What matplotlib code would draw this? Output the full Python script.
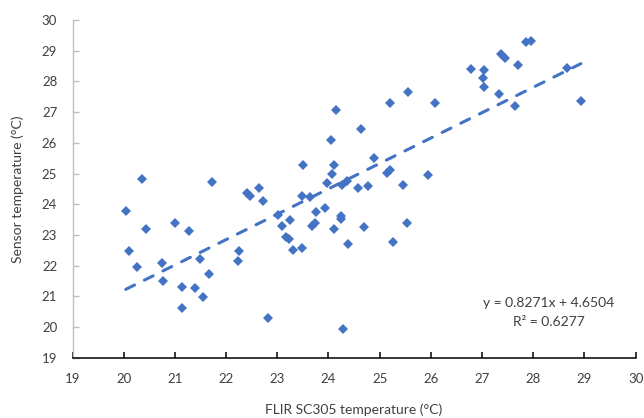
import numpy as np
import matplotlib
matplotlib.use("Agg")
import matplotlib.pyplot as plt

# FLIR SC305 reading vs sensor reading (deg C)
flir_temp = [20.04, 20.11, 20.25, 20.35, 20.44, 20.74, 20.77, 21.00, 21.14, 21.14,
             21.27, 21.39, 21.50, 21.54, 21.67, 21.72, 22.23, 22.25, 22.41, 22.46,
             22.65, 22.73, 22.82, 23.02, 23.09, 23.18, 23.23, 23.25, 23.31, 23.48,
             23.48, 23.51, 23.64, 23.67, 23.74, 23.75, 23.93, 23.98, 24.04, 24.06,
             24.11, 24.11, 24.14, 24.24, 24.24, 24.26, 24.36, 24.28, 24.39, 24.57,
             24.63, 24.70, 24.77, 24.89, 25.14, 25.20, 25.20, 25.27, 25.46, 25.53,
             25.56, 25.95, 26.09, 26.78, 27.01, 27.04, 27.04, 27.34, 27.37, 27.45,
             27.64, 27.71, 27.86, 27.95, 28.65, 28.93]
sensor_temp = [23.79, 22.49, 21.96, 24.82, 23.18, 22.09, 21.50, 23.40, 21.31, 20.62,
               23.14, 21.26, 22.20, 20.97, 21.73, 24.73, 22.14, 22.49, 24.35, 24.27,
               24.52, 24.11, 20.30, 23.65, 23.30, 22.94, 22.87, 23.49, 22.51, 22.56,
               24.28, 25.28, 24.25, 23.29, 23.38, 23.76, 23.89, 24.70, 26.09, 24.98,
               25.28, 23.18, 27.07, 23.62, 23.51, 24.63, 24.77, 19.94, 22.70, 24.52,
               26.45, 23.25, 24.60, 25.51, 25.03, 25.11, 27.31, 22.78, 24.63, 23.38,
               27.65, 24.95, 27.31, 28.39, 28.12, 28.37, 27.81, 27.58, 28.88, 28.77,
               27.20, 28.53, 29.27, 29.32, 28.45, 27.37]

# linear trendline as printed on the chart
slope = 0.8271
intercept = 4.6504
r_squared = 0.6277

blue = "#4472C4"
grey_text = "#404040"

plt.rcParams['font.family'] = ['Lato', 'DejaVu Sans']

fig = plt.figure(figsize=(6.44, 4.18), dpi=100)
ax = fig.add_axes([0.1126, 0.1443, 0.8744, 0.8078])

ax.plot(flir_temp, sensor_temp, linestyle='none', marker='D', markersize=5.2,
        color=blue, markeredgewidth=0)

# trendline from min to max x
x_fit = np.array([min(flir_temp), max(flir_temp)])
ax.plot(x_fit, slope * x_fit + intercept, color=blue, linewidth=2.2,
        dashes=(3.2, 3.6), dash_capstyle='round')

ax.set_xlim(19, 30)
ax.set_ylim(19, 30)
ax.set_xticks(range(19, 31))
ax.set_yticks(range(19, 31))

for s in ['top', 'right']:
    ax.spines[s].set_visible(False)
ax.spines['left'].set_color('#BFBFBF')
ax.spines['left'].set_linewidth(1.0)
ax.spines['bottom'].set_color('black')
ax.spines['bottom'].set_linewidth(1.1)

ax.tick_params(axis='x', direction='in', length=4, width=1.1, color='black',
               pad=11, labelsize=9.5, labelcolor=grey_text)
ax.tick_params(axis='y', direction='in', length=4, width=1.0, color='#BFBFBF',
               pad=11, labelsize=9.5, labelcolor=grey_text)

ax.set_xlabel("FLIR SC305 temperature (°C)", fontsize=10, color=grey_text, labelpad=13)
ax.set_ylabel("Sensor temperature (°C)", fontsize=10, color=grey_text, labelpad=13)

fig.text(0.852, 0.276, f"y = {slope}x + {intercept}", ha='center', va='center',
         fontsize=10, color=grey_text)
fig.text(0.852, 0.2304, f"R² = {r_squared}", ha='center', va='center',
         fontsize=10, color=grey_text)

fig.savefig("out.png", dpi=100)
